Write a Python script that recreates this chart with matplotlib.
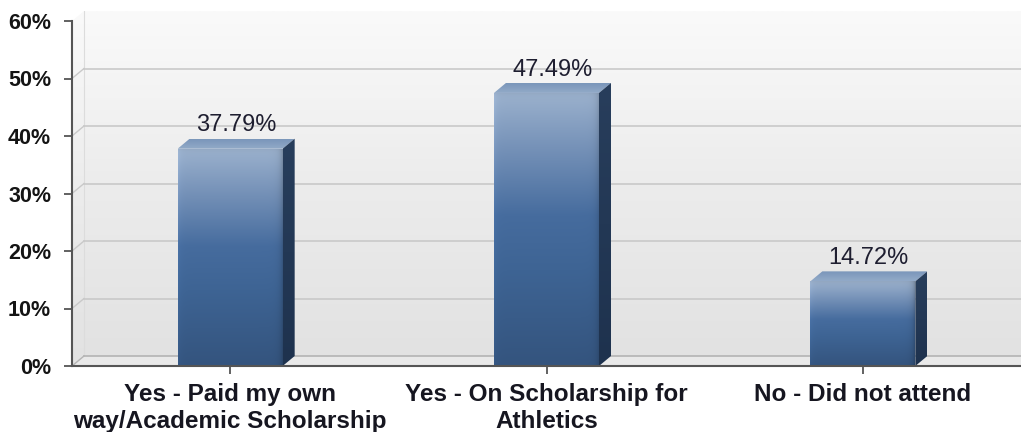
import numpy as np
import matplotlib
matplotlib.use("Agg")
import matplotlib.pyplot as plt
from matplotlib.patches import Polygon

# ---- data ----
categories = ["Yes - Paid my own\nway/Academic Scholarship",
              "Yes - On Scholarship for\nAthletics",
              "No - Did not attend"]
values = [37.79, 47.49, 14.72]
value_labels = ["37.79%", "47.49%", "14.72%"]
yticks = [0, 10, 20, 30, 40, 50, 60]
ytick_labels = ["0%", "10%", "20%", "30%", "40%", "50%", "60%"]

plt.rcParams['font.family'] = ['Liberation Sans', 'DejaVu Sans']

W, H = 1021, 432
fig = plt.figure(figsize=(W / 100, H / 100), dpi=100)
fig.patch.set_facecolor("white")

# axes geometry in pixels
left_px, right_px, bottom_px, top_px = 72, 1021, 366, 11
y_top_val = 60
px_per_y = (366 - 21) / 60.0
ax = fig.add_axes([left_px / W, 1 - bottom_px / H,
                   (right_px - left_px) / W, (bottom_px - top_px) / H])
ax.set_facecolor("none")

ylim_top = (bottom_px - top_px) / px_per_y
x_per_px = 3.0 / (right_px - left_px)
y_per_px = 1.0 / px_per_y
dx = 12 * x_per_px      # depth offset (3-D look)
dy = 10 * y_per_px
bw = 105 * x_per_px     # bar width


def grad_fill(poly_pts, arr, extent, z):
    poly = Polygon(poly_pts, closed=True, facecolor="none", edgecolor="none",
                   transform=ax.transData)
    ax.add_patch(poly)
    im = ax.imshow(arr, extent=extent, origin="lower", aspect="auto",
                   zorder=z, interpolation="bilinear")
    im.set_clip_path(poly)
    return im


def vgrad(stops, n=256, nx=2):
    t = np.linspace(0, 1, n)
    ts = [s[0] for s in stops]
    cols = np.array([s[1] for s in stops], dtype=float) / 255.0
    rgb = np.stack([np.interp(t, ts, cols[:, k]) for k in range(3)], axis=-1)
    return np.repeat(rgb[:, None, :], nx, axis=1)


x_lo, x_hi = -0.5, 2.5

# back wall
wall = vgrad([(0, (226, 226, 226)), (0.5, (236, 236, 236)), (1, (250, 250, 250))])
grad_fill([(x_lo + dx, dy), (x_hi + 1, dy), (x_hi + 1, y_top_val + dy),
           (x_lo + dx, y_top_val + dy)],
          wall, (x_lo + dx, x_hi + 1, dy, y_top_val + dy), 0)
# left side wall
grad_fill([(x_lo, 0), (x_lo + dx, dy), (x_lo + dx, y_top_val + dy), (x_lo, y_top_val)],
          wall, (x_lo, x_lo + dx, 0, y_top_val + dy), 0)
ax.plot([x_lo + dx, x_lo + dx], [dy, y_top_val + dy], color="#dcdcdc", lw=0.8, zorder=1)

# floor
floor = Polygon([(x_lo, 0), (x_hi + 1, 0), (x_hi + 1, dy), (x_lo + dx, dy)],
                closed=True, facecolor="#e9e9e9", edgecolor="none", zorder=1)
ax.add_patch(floor)
ax.plot([x_lo + dx, x_hi + 1], [dy, dy], color="#b4b4b4", lw=1.2, zorder=1.5)
ax.plot([x_lo, x_lo + dx], [0, dy], color="#b4b4b4", lw=1.0, zorder=1.5)

# gridlines on the walls
for v in yticks[1:-1]:
    ax.plot([x_lo + dx, x_hi + 1], [v + dy, v + dy], color="#c9c9c9", lw=1.2, zorder=1.5)
    ax.plot([x_lo, x_lo + dx], [v, v + dy], color="#c9c9c9", lw=1.0, zorder=1.5)

# bars
front_stops = [(0, (52, 84, 126)), (0.35, (62, 100, 148)), (0.55, (70, 108, 158)),
               (0.8, (118, 146, 184)), (1, (156, 178, 206))]
for i, v in enumerate(values):
    x0, x1 = i - bw / 2, i + bw / 2
    nx, ny = 105, max(int(v * px_per_y), 8)
    arr = vgrad(front_stops, n=ny, nx=nx)
    # soft bevelled rim: lighter on the left, darker towards the right edge
    c = np.arange(nx)
    r = np.arange(ny)
    shade_x = 1 + 0.05 * np.exp(-c / 3.0) - 0.18 * np.exp(-(nx - 1 - c) / 3.0)
    shade_y = 1 - 0.06 * np.exp(-(ny - 1 - r) / 3.0)
    arr = np.clip(arr * shade_x[None, :, None] * shade_y[:, None, None], 0, 1)
    grad_fill([(x0, 0), (x1, 0), (x1, v), (x0, v)], arr, (x0, x1, 0, v), 3)
    # top face
    top = vgrad([(0, (146, 170, 200)), (1, (122, 150, 186))])
    grad_fill([(x0, v), (x1, v), (x1 + dx, v + dy), (x0 + dx, v + dy)],
              top, (x0, x1 + dx, v, v + dy), 3)
    # side face
    side = vgrad([(0, (30, 50, 78)), (1, (40, 62, 92))])
    grad_fill([(x1, 0), (x1 + dx, dy), (x1 + dx, v + dy), (x1, v)],
              side, (x1, x1 + dx, 0, v + dy), 3)
    ax.text(i + dx / 2, v + dy + 0.4, value_labels[i], ha="center", va="bottom",
            fontsize=17, color="#1e1e30", zorder=5)

ax.set_xlim(x_lo, x_hi)
ax.set_ylim(0, ylim_top)

# axes frame
for s in ["top", "right"]:
    ax.spines[s].set_visible(False)
ax.spines["left"].set_bounds(0, y_top_val)
ax.spines["left"].set_color("#555555")
ax.spines["left"].set_linewidth(1.5)
ax.spines["bottom"].set_color("#555555")
ax.spines["bottom"].set_linewidth(1.5)
ax.spines["left"].set_zorder(6)
ax.spines["bottom"].set_zorder(6)

ax.set_yticks(yticks)
ax.set_yticklabels(ytick_labels, fontsize=15.5, fontweight="bold", color="#141414")
ax.set_xticks(range(len(categories)))
ax.set_xticklabels(categories, fontsize=17.5, fontweight="bold", color="#161620")
for lab in ax.get_xticklabels():
    lab.set_linespacing(1.25)
ax.tick_params(axis="y", length=6, width=1.3, color="#555555", pad=9)
ax.tick_params(axis="x", length=6, width=1.3, color="#555555", pad=6)

fig.savefig("out.png", dpi=100, facecolor="white")
